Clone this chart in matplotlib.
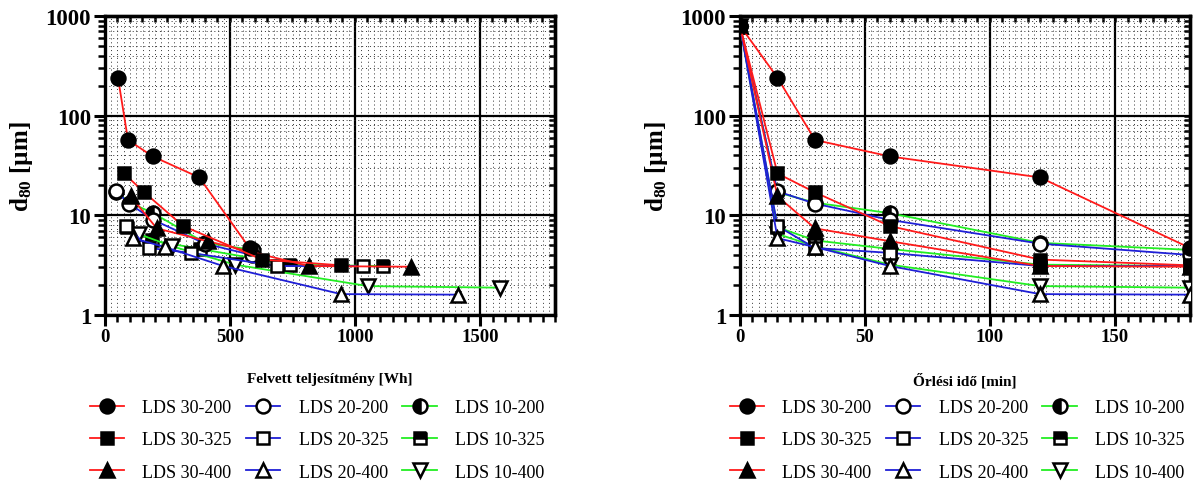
import numpy as np
import matplotlib
matplotlib.use("Agg")
import matplotlib.pyplot as plt
from matplotlib.ticker import MultipleLocator, LogLocator, NullFormatter, FixedLocator
from matplotlib.lines import Line2D

plt.rcParams['font.family'] = ['Liberation Serif', 'DejaVu Serif']
plt.rcParams['mathtext.fontset'] = 'custom'
plt.rcParams['mathtext.rm'] = 'Liberation Serif'
plt.rcParams['mathtext.bf'] = 'Liberation Serif:bold'

# ---------------- data ----------------
labels = ["LDS 30-200", "LDS 30-325", "LDS 30-400",
          "LDS 20-200", "LDS 20-325", "LDS 20-400",
          "LDS 10-200", "LDS 10-325", "LDS 10-400"]

time_min = [0, 15, 30, 60, 120, 180]

d80_30_200 = [800, 240, 57, 39, 24, 4.7]
d80_30_325 = [800, 26.3, 17.0, 7.8, 3.6, 3.15]
d80_30_400 = [800, 15.5, 7.4, 5.5, 3.1, 3.05]
d80_20_200 = [800, 17.4, 13.1, 9.0, 5.2, 4.0]
d80_20_325 = [800, 7.8, 4.7, 4.2, 3.1, 3.1]
d80_20_400 = [800, 5.9, 4.8, 3.1, 1.62, 1.6]
d80_10_200 = [800, 17.0, 13.4, 10.5, 5.3, 4.5]
d80_10_325 = [800, 7.6, 5.6, 4.6, 3.2, 3.1]
d80_10_400 = [800, 6.5, 4.9, 3.2, 1.95, 1.88]

# energy consumption [Wh] at 15, 30, 60, 120, 180 min
energy_30_200 = [52, 92, 191, 377, 578]
energy_30_325 = [76, 157, 313, 628, 944]
energy_30_400 = [103, 207, 410, 816, 1224]
energy_20_200 = [44, 97, 193, 400, 587]
energy_20_325 = [84, 177, 343, 688, 1032]
energy_20_400 = [113, 240, 473, 944, 1412]
energy_10_200 = [46, 100, 193, 400, 590]
energy_10_325 = [90, 187, 380, 740, 1112]
energy_10_400 = [135, 267, 520, 1052, 1580]

x_ticks_energy = [0, 500, 1000, 1500]
x_ticks_time = [0, 50, 100, 150]
y_ticks = [1, 10, 100, 1000]

# ---------------- styles ----------------
RED, BLUE, GREEN = '#ff1a1a', '#1f1fd6', '#22ee22'
d80_all = [d80_30_200, d80_30_325, d80_30_400, d80_20_200, d80_20_325, d80_20_400,
           d80_10_200, d80_10_325, d80_10_400]
energy_all = [energy_30_200, energy_30_325, energy_30_400, energy_20_200, energy_20_325,
              energy_20_400, energy_10_200, energy_10_325, energy_10_400]
styles = [
    dict(color=RED, marker='o', mfc='black', ms=10),
    dict(color=RED, marker='s', mfc='black', ms=9),
    dict(color=RED, marker='^', mfc='black', ms=10),
    dict(color=BLUE, marker='o', mfc='white', ms=10),
    dict(color=BLUE, marker='s', mfc='white', ms=9),
    dict(color=BLUE, marker='^', mfc='white', ms=10),
    dict(color=GREEN, marker='o', mfc='black', fillstyle='left', markerfacecoloralt='white', ms=10),
    dict(color=GREEN, marker='s', mfc='black', fillstyle='top', markerfacecoloralt='white', ms=9),
    dict(color=GREEN, marker='v', mfc='white', ms=10),
]
draw_order = [6, 7, 8, 3, 4, 5, 2, 0, 1]

fig = plt.figure(figsize=(11.95, 4.85), dpi=100)
W, H = 1195, 485
ax1 = fig.add_axes([105 / W, 1 - 316 / H, 450 / W, 299 / H])
ax2 = fig.add_axes([740 / W, 1 - 316 / H, 450 / W, 299 / H])

tickfont = dict(fontsize=16.5, fontweight='bold')
DOT = (0, (1, 3))


def style_axes(ax, xmax, xmajor, xminor, xgrid, xticks):
    ax.set_yscale('log')
    ax.set_ylim(1, 1000)
    ax.set_xlim(0, xmax)
    ax.set_xticks(xticks)
    ax.xaxis.set_minor_locator(MultipleLocator(xminor))
    ax.yaxis.set_major_locator(FixedLocator(y_ticks))
    ax.yaxis.set_minor_locator(LogLocator(base=10, subs=np.arange(2, 10)))
    ax.yaxis.set_minor_formatter(NullFormatter())
    ax.set_yticklabels([str(v) for v in y_ticks], **tickfont)
    ax.set_xticklabels([str(v) for v in xticks], fontsize=13.5, fontweight='bold')
    ax.grid(which='major', color='black', lw=1.6, ls='-')
    ax.grid(which='minor', axis='y', color='#333333', lw=0.7, ls=DOT)
    for gx in np.arange(xgrid, xmax, xgrid):
        if abs(gx / xmajor - round(gx / xmajor)) > 1e-6:
            ax.axvline(gx, color='#333333', lw=0.7, ls=DOT, zorder=0.5)
    for s in ax.spines.values():
        s.set_linewidth(2.4)
    ax.tick_params(which='major', direction='out', length=8, width=2.2, pad=1)
    ax.tick_params(which='minor', direction='out', length=5, width=1.8)
    ax.tick_params(axis='y', which='major', pad=2)
    ax.set_axisbelow(True)
    # inward ticks on top and right
    sx = ax.secondary_xaxis('top')
    sx.set_xticks(xticks)
    sx.xaxis.set_minor_locator(MultipleLocator(xminor))
    sx.tick_params(which='both', direction='in', length=4, width=1.8, labeltop=False)
    sx.spines['top'].set_linewidth(2.4)
    sy = ax.secondary_yaxis('right')
    sy.set_yticks(y_ticks)
    sy.yaxis.set_minor_locator(LogLocator(base=10, subs=np.arange(2, 10)))
    sy.tick_params(which='both', direction='in', length=4, width=1.8, labelright=False)
    sy.yaxis.set_minor_formatter(NullFormatter())
    sy.spines['right'].set_linewidth(2.4)


style_axes(ax1, 1800, 500, 50, 25, x_ticks_energy)
style_axes(ax2, 180, 50, 5, 2.5, x_ticks_time)

for i in draw_order:
    st = dict(styles[i])
    z = 3 + draw_order.index(i) * 0.1
    ax1.plot(energy_all[i], d80_all[i][1:], lw=1.3, mec='black', mew=1.8, zorder=z, **st)
    ax2.plot(time_min, d80_all[i], lw=1.3, mec='black', mew=1.8, zorder=z, **st)

ylab = r'$\mathbf{d_{80}}$ [µm]'
for ax, xl in [(ax1, 'Felvett teljesítmény [Wh]'), (ax2, 'Őrlési idő [min]')]:
    ax.set_ylabel(ylab, fontsize=18, fontweight='bold')
    ax.yaxis.set_label_coords(-0.155, 0.5)
    ax.set_xlabel(xl, fontsize=11, fontweight='bold')
    ax.xaxis.set_label_coords(0.5, -0.19)

# legends
handles = []
for i in range(9):
    st = dict(styles[i])
    handles.append(Line2D([], [], lw=1.3, mec='black', mew=1.8, **st))

for x0 in (90, 730):
    fig.legend(handles, labels, ncol=3, loc='upper left',
               bbox_to_anchor=(x0 / W, 1 - 400 / H), frameon=False,
               prop=dict(family='Liberation Serif', size=13),
               handlelength=1.9, handletextpad=1.0, columnspacing=0.8,
               labelspacing=0.85, borderpad=0, borderaxespad=0)

fig.savefig('out.png', dpi=100)
